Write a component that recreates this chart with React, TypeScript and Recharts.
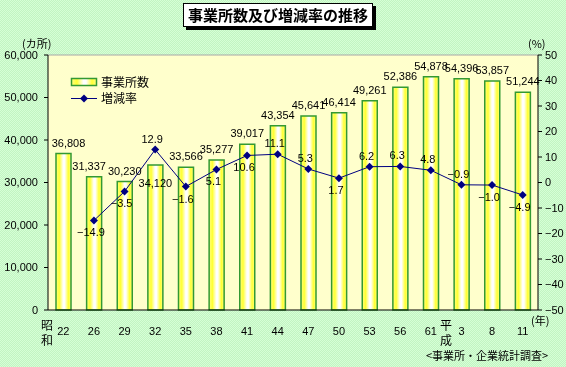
import {
  Bar,
  CartesianGrid,
  ComposedChart,
  LabelList,
  Line,
  ReferenceLine,
  XAxis,
  YAxis,
} from "recharts";

const years = ["22", "26", "29", "32", "35", "38", "41", "44", "47", "50", "53", "56", "61", "3", "8", "11"];
const establishments = [
  36808, 31337, 30230, 34120, 33566, 35277, 39017, 43354, 45641, 46414, 49261, 52386, 54878, 54396, 53857,
  51244,
];
const changeRates = [null, -14.9, -3.5, 12.9, -1.6, 5.1, 10.6, 11.1, 5.3, 1.7, 6.2, 6.3, 4.8, -0.9, -1.0, -4.9];
const countTicks = [0, 10000, 20000, 30000, 40000, 50000, 60000];
const rateTicks = [-50, -40, -30, -20, -10, 0, 10, 20, 30, 40, 50];

const data = years.map((year, i) => ({
  year,
  count: establishments[i],
  rate: changeRates[i],
}));

// label placement tweaks (as moved by hand in the original)
const countLabelNudge: Record<number, [number, number]> = { 0: [5, 0], 1: [-5, 0], 3: [0, 29] };
const rateBelow = [false, true, true, false, true, true, true, false, false, true, false, false, false, false, true, true];

const NUM_FONT = "'Liberation Sans', Arial, sans-serif";
const JP_FONT = "'Noto Sans CJK JP', sans-serif";
const NAVY = "#000080";
const minus = (s: string) => s.replace("-", "\u2212");

const gradStops = (
  <>
    <stop offset="0%" stopColor="#FFFF80" />
    <stop offset="22%" stopColor="#FFFF33" />
    <stop offset="48%" stopColor="#FFFFFF" />
    <stop offset="58%" stopColor="#FFFFFF" />
    <stop offset="82%" stopColor="#FFFF33" />
    <stop offset="100%" stopColor="#FFFF80" />
  </>
);

const Diamond = ({ cx, cy }: { cx?: number; cy?: number }) => {
  if (cx == null || cy == null || isNaN(cy)) return null;
  return <polygon points={`${cx},${cy - 4} ${cx + 4},${cy} ${cx},${cy + 4} ${cx - 4},${cy}`} fill={NAVY} />;
};

const CountLabel = (props: any) => {
  const { x, y, width, value, index } = props;
  const [dx, dy] = countLabelNudge[index] ?? [0, 0];
  return (
    <text x={x + width / 2 + dx} y={y - 7 + dy} textAnchor="middle" fontSize={11} fontFamily={NUM_FONT} fill="#000">
      {value.toLocaleString("en-US")}
    </text>
  );
};

const RateLabel = (props: any) => {
  const { x, y, value, index } = props;
  if (value == null) return null;
  const below = rateBelow[index];
  return (
    <text x={x - 3} y={below ? y + 16 : y - 7} textAnchor="middle" fontSize={11} fontFamily={NUM_FONT} fill="#000">
      {minus(value.toFixed(1))}
    </text>
  );
};

const LegendBox = () => (
  <svg width={130} height={32} style={{ position: "absolute", left: 70, top: 75 }}>
    <defs>
      <linearGradient id="legGrad" x1="0" y1="0" x2="1" y2="0">
        {gradStops}
      </linearGradient>
    </defs>
    <rect x={1.5} y={3.5} width={25} height={7} fill="url(#legGrad)" stroke="#339933" strokeWidth={1.5} />
    <text x={31} y={12} fontSize={12} fontFamily={JP_FONT}>
      事業所数
    </text>
    <line x1={1} y1={23.5} x2={27} y2={23.5} stroke={NAVY} strokeWidth={1} />
    <polygon points="14,19.5 18,23.5 14,27.5 10,23.5" fill={NAVY} />
    <text x={31} y={28} fontSize={12} fontFamily={JP_FONT}>
      増減率
    </text>
  </svg>
);

const note = (text: string, left: number, top: number, size = 12) => (
  <div
    style={{
      position: "absolute",
      left,
      top,
      fontSize: size,
      fontFamily: JP_FONT,
      lineHeight: 1,
      whiteSpace: "nowrap",
    }}
  >
    {text}
  </div>
);

export default function App() {
  return (
    <div
      style={{
        position: "fixed",
        left: 0,
        top: 0,
        width: 566,
        height: 367,
        background: "repeating-conic-gradient(#C2F4C2 0% 25%, #D6FFD6 0% 50%) 0 0 / 2px 2px",
      }}
    >
      <ComposedChart width={566} height={367} data={data} margin={{ top: 55, right: 0, bottom: 0, left: 0 }}>
        <defs>
          <linearGradient id="barGrad" x1="0" y1="0" x2="1" y2="0">
            {gradStops}
          </linearGradient>
        </defs>
        <CartesianGrid horizontal={false} vertical={false} fill="#FFFFCC" />
        <XAxis
          dataKey="year"
          interval={0}
          tickLine={false}
          height={57}
          tickMargin={11}
          axisLine={{ stroke: "#000" }}
          tick={{ fontSize: 11, fontFamily: NUM_FONT, fill: "#000" }}
        />
        <YAxis
          yAxisId="left"
          width={48}
          domain={[0, 60000]}
          ticks={countTicks}
          interval={0}
          tickSize={4}
          tickMargin={6}
          axisLine={{ stroke: "#000" }}
          tickLine={{ stroke: "#000" }}
          tickFormatter={(v: number) => v.toLocaleString("en-US")}
          tick={{ fontSize: 11, fontFamily: NUM_FONT, fill: "#000" }}
        />
        <YAxis
          yAxisId="right"
          orientation="right"
          width={28}
          domain={[-50, 50]}
          ticks={rateTicks}
          interval={0}
          tickSize={4}
          tickMargin={3}
          axisLine={{ stroke: "#000" }}
          tickLine={{ stroke: "#000" }}
          tickFormatter={(v: number) => minus(String(v))}
          tick={{ fontSize: 11, fontFamily: NUM_FONT, fill: "#000" }}
        />
        <ReferenceLine yAxisId="left" y={60000} stroke="#A8A8A8" />
        <Bar
          yAxisId="left"
          dataKey="count"
          barSize={15}
          fill="url(#barGrad)"
          stroke="#339933"
          strokeWidth={1.5}
          isAnimationActive={false}
        >
          <LabelList dataKey="count" content={CountLabel} />
        </Bar>
        <Line
          yAxisId="right"
          dataKey="rate"
          stroke={NAVY}
          strokeWidth={1}
          dot={<Diamond />}
          activeDot={false}
          connectNulls={false}
          isAnimationActive={false}
        >
          <LabelList dataKey="rate" content={RateLabel} />
        </Line>
      </ComposedChart>

      <LegendBox />
      <div
        style={{
          position: "absolute",
          left: 183,
          top: 3,
          width: 188,
          height: 22,
          background: "#fff",
          border: "1px solid #000",
          boxShadow: "3px 3px 0 #000",
          fontFamily: JP_FONT,
          fontWeight: "bold",
          fontSize: 15,
          lineHeight: "22px",
          textAlign: "center",
        }}
      >
        事業所数及び増減率の推移
      </div>
      {note("(カ所)", 22, 38, 11)}
      {note("(%)", 528, 38, 11)}
      {note("昭", 41, 319)}
      {note("和", 41, 334)}
      {note("平", 440, 319)}
      {note("成", 440, 334)}
      {note("(年)", 531, 315, 11)}
      {note("<事業所・企業統計調査>", 426, 350, 11)}
    </div>
  );
}
